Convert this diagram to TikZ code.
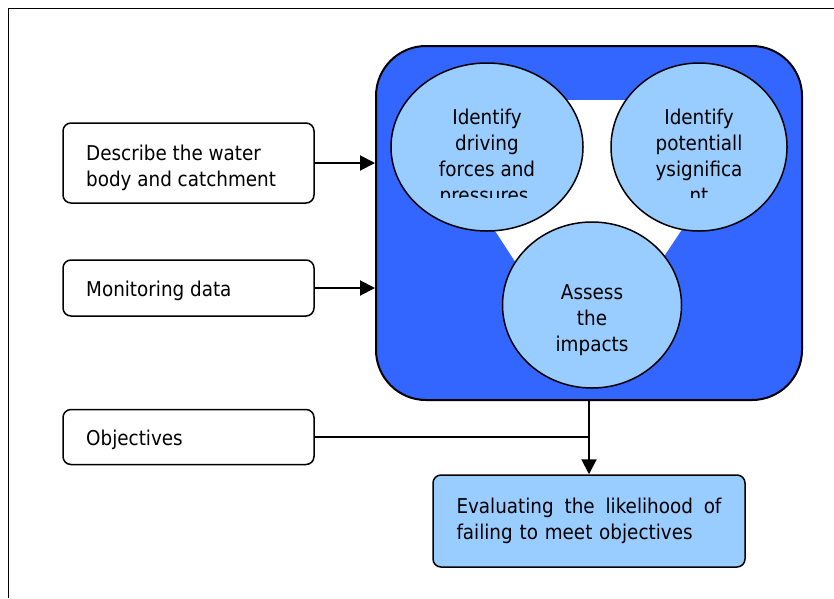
\documentclass[tikz,border=0pt]{standalone}
\usepackage{fontspec}
\setmainfont{DejaVu Sans Condensed}
\usetikzlibrary{shapes.geometric,arrows.meta}
\definecolor{bigblue}{RGB}{51,102,255}
\definecolor{lightblue}{RGB}{153,204,255}
\begin{document}
\begin{tikzpicture}[x=1pt,y=-1pt,
  txt/.style={font=\fontsize{20.4}{26}\selectfont},
  inbox/.style={draw=black,line width=1.5pt,fill=white,rounded corners=8pt,inner sep=0pt,
    minimum width=251pt},
  boxtext/.style={txt,align=left,anchor=west,inner sep=0pt},
  bubble/.style={ellipse,draw=black,line width=1.5pt,fill=lightblue,inner sep=0pt},
  conn/.style={line width=2pt,-{Triangle[length=15pt,width=15pt]}},
  joinline/.style={line width=2pt}]
\useasboundingbox (0,0) rectangle (834,598);
\draw[line width=1.3pt] (8.5,598) -- (8.5,8.5) -- (834,8.5);

\node[draw=black,line width=2pt,fill=bigblue,rounded corners=50pt,minimum width=426pt,minimum height=354pt] (main) at (589,223) {};
\fill[white] (410,100) -- (768,100) -- (587,372) -- cycle;

\node[bubble,minimum width=192pt,minimum height=168pt] (e1) at (487,147) {};
\node[bubble,minimum width=176pt,minimum height=168pt] (e2) at (699,147) {};
\node[bubble,minimum width=179pt,minimum height=166pt] (e3) at (592,305) {};

\begin{scope}
\clip (380,60) rectangle (800,197);
\node[txt,align=center,anchor=north] (t1) at (487,105) {Identify\\driving\\forces and\\pressures.};
\node[txt,align=center,anchor=north] (t2) at (699,105) {Identify\\potentiall\\ysignifica\\nt};
\end{scope}
\node[txt,align=center] (t3) at (592,320) {Assess\\the\\impacts};

\node[inbox,minimum height=80pt] (b1) at (188.5,163) {};
\node[inbox,minimum height=56pt] (b2) at (188.5,288) {};
\node[inbox,minimum height=55pt] (b3) at (188.5,437) {};
\node[boxtext] (l1) at (86,168) {Describe the water\\body and catchment};
\node[boxtext] (l2) at (86,291) {Monitoring data};
\node[boxtext] (l3) at (86,439.5) {Objectives};

\node[draw=black,line width=1.5pt,fill=lightblue,rounded corners=8pt,inner sep=0pt,
  minimum width=312pt,minimum height=92pt,txt,align=left,text width=265pt] (ev) at (589,521)
  {\hbox to 265pt{Evaluating\hfill the\hfill likelihood\hfill of}\\failing to meet objectives};

\draw[conn] (b1.east) -- (b1.east -| main.west);
\draw[conn] (b2.east) -- (b2.east -| main.west);
\draw[joinline] (b3.east) -- (b3.east -| main.south);
\draw[conn] (main.south) -- (ev.north);
\end{tikzpicture}
\end{document}
